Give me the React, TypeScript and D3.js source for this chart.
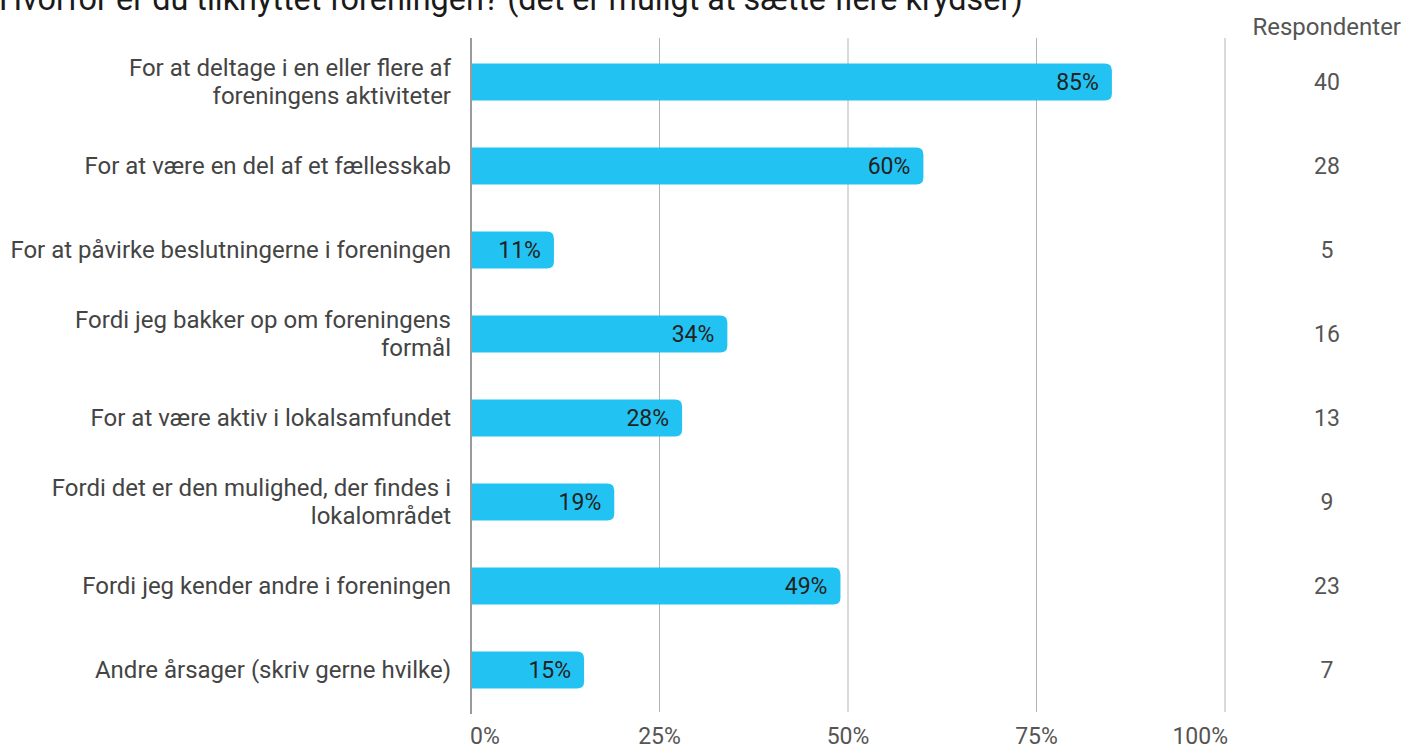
import { useRef, useEffect } from "react";
import * as d3 from "d3";

const categories = [
  "For at deltage i en eller flere af|foreningens aktiviteter",
  "For at være en del af et fællesskab",
  "For at påvirke beslutningerne i foreningen",
  "Fordi jeg bakker op om foreningens|formål",
  "For at være aktiv i lokalsamfundet",
  "Fordi det er den mulighed, der findes i|lokalområdet",
  "Fordi jeg kender andre i foreningen",
  "Andre årsager (skriv gerne hvilke)",
];
const percents = [85, 60, 11, 34, 28, 19, 49, 15];
const respondents = [40, 28, 5, 16, 13, 9, 23, 7];
const ticks = [0, 25, 50, 75, 100];

const title = "Hvorfor er du tilknyttet foreningen?  (det er muligt at sætte flere krydser)";

const W = 1404;
const H = 747;

export default function App() {
  const svgRef = useRef<SVGSVGElement>(null);

  useEffect(() => {
    if (!svgRef.current) return;
    const svg = d3.select(svgRef.current);
    svg.selectAll("*").remove();

    const font = "Roboto, sans-serif";
    const x = d3.scaleLinear().domain([0, 100]).range([471, 1225]);
    const y = d3
      .scaleBand<number>()
      .domain(d3.range(categories.length))
      .range([40, 712])
      .paddingInner(0.56)
      .paddingOuter(0.28);

    svg
      .append("text")
      .attr("x", -1)
      .attr("y", 10)
      .attr("font-family", font)
      .attr("font-size", 32.4)
      .attr("fill", "#1a1a1a")
      .text(title);

    // grid lines
    svg
      .append("g")
      .selectAll("line")
      .data(ticks.slice(1))
      .join("line")
      .attr("x1", (d) => x(d))
      .attr("x2", (d) => x(d))
      .attr("y1", 38)
      .attr("y2", 712)
      .attr("stroke", "#b4b4b4")
      .attr("stroke-width", 1);

    // tick labels
    svg
      .append("g")
      .selectAll("text")
      .data(ticks)
      .join("text")
      .attr("x", (d) => (d === 0 ? x(d) - 1 : d === 100 ? x(d) + 3 : x(d)))
      .attr("y", 744)
      .attr("text-anchor", (d) => (d === 0 ? "start" : d === 100 ? "end" : "middle"))
      .attr("font-family", font)
      .attr("font-size", 23)
      .attr("fill", "#555")
      .text((d) => `${d}%`);

    const rowIdx = d3.range(categories.length);

    // bars: flat on the left, rounded on the right
    const r = 7;
    svg
      .append("g")
      .selectAll("path")
      .data(rowIdx)
      .join("path")
      .attr("d", (i) => {
        const x0 = x(0);
        const x1 = x(percents[i]);
        const y0 = y(i)!;
        const h = y.bandwidth();
        return `M${x0},${y0}H${x1 - r}Q${x1},${y0} ${x1},${y0 + r}V${y0 + h - r}Q${x1},${y0 + h} ${x1 - r},${y0 + h}H${x0}Z`;
      })
      .attr("fill", "#22c3f2");

    // zero axis line
    svg
      .append("line")
      .attr("x1", x(0))
      .attr("x2", x(0))
      .attr("y1", 38)
      .attr("y2", 714)
      .attr("stroke", "#9a9a9a")
      .attr("stroke-width", 2);

    // value labels
    svg
      .append("g")
      .selectAll("text")
      .data(rowIdx)
      .join("text")
      .attr("x", (i) => x(percents[i]) - 13)
      .attr("y", (i) => y(i)! + y.bandwidth() / 2)
      .attr("dy", "0.35em")
      .attr("text-anchor", "end")
      .attr("font-family", font)
      .attr("font-size", 23)
      .attr("fill", "#222")
      .text((i) => `${percents[i]}%`);

    // category labels
    const cat = svg
      .append("g")
      .selectAll("text")
      .data(rowIdx)
      .join("text")
      .attr("text-anchor", "end")
      .attr("font-family", font)
      .attr("font-size", 24)
      .attr("fill", "#444");
    cat.each(function (i) {
      const lines = categories[i].split("|");
      const cy = y(i)! + y.bandwidth() / 2;
      const lh = 28;
      d3.select(this)
        .selectAll("tspan")
        .data(lines)
        .join("tspan")
        .attr("x", 451)
        .attr("y", (_, k) => cy + (k - (lines.length - 1) / 2) * lh)
        .attr("dy", "0.35em")
        .text((d) => d);
    });

    // respondents column
    svg
      .append("text")
      .attr("x", 1401)
      .attr("y", 27)
      .attr("dy", "0.35em")
      .attr("text-anchor", "end")
      .attr("font-family", font)
      .attr("font-size", 24)
      .attr("fill", "#555")
      .text("Respondenter");

    svg
      .append("g")
      .selectAll("text")
      .data(rowIdx)
      .join("text")
      .attr("x", 1327)
      .attr("y", (i) => y(i)! + y.bandwidth() / 2)
      .attr("dy", "0.35em")
      .attr("text-anchor", "middle")
      .attr("font-family", font)
      .attr("font-size", 23)
      .attr("fill", "#555")
      .text((i) => respondents[i]);
  }, []);

  return (
    <div style={{ position: "fixed", left: 0, top: 0, width: W, height: H, background: "#fff" }}>
      <svg ref={svgRef} width={W} height={H} />
    </div>
  );
}
